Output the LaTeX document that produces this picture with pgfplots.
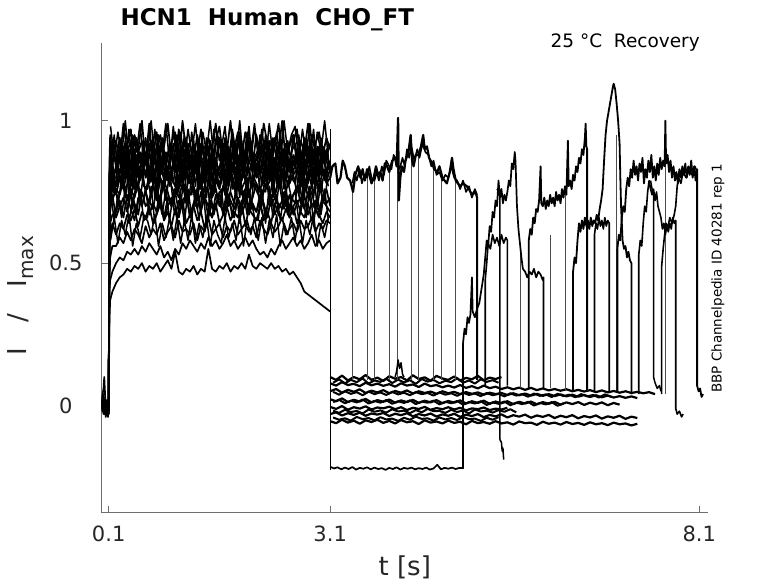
\documentclass[border=0pt]{standalone}
\usepackage{fontspec}
\setmainfont{DejaVu Sans}
\usepackage{pgfplots}
\usepackage{pgfplotstable}
\pgfplotsset{compat=1.18}
\definecolor{axgray}{RGB}{110,110,110}
\definecolor{txtgray}{RGB}{38,38,38}

\pgfplotstableread{
t a1 a2 a3 a4 a5 a6 a7 a8 a9 a10 a11 a12 a13 a14 a15
0.00 0.01 0.00 -0.01 0.02 0.00 0.01 -0.02 0.00 0.01 -0.01 0.00 0.02 0.00 0.01 -0.01
0.03 0.06 -0.02 0.01 0.00 0.03 -0.03 0.02 0.01 -0.01 0.04 0.00 -0.02 0.01 -0.01 0.02
0.04 0.10 0.01 -0.03 0.02 -0.01 0.02 0.00 -0.03 0.02 0.00 -0.02 0.01 -0.01 0.00 0.00
0.06 -0.01 -0.03 0.00 -0.02 0.01 -0.04 0.01 0.00 -0.03 0.01 0.02 -0.03 0.02 -0.02 0.01
0.09 -0.02 0.01 -0.04 0.00 -0.03 0.00 -0.02 0.02 -0.01 -0.03 -0.01 0.00 -0.02 0.01 -0.02
0.10 0.00 -0.02 0.00 -0.03 0.00 -0.02 0.01 -0.02 0.00 -0.01 -0.03 -0.01 0.00 -0.01 0.00
0.11 0.85 0.80 0.78 0.82 0.72 0.75 0.70 0.62 0.55 0.45 0.40 0.30 0.80 0.76 0.58
0.12 0.95 0.86 0.88 0.76 0.84 0.70 0.78 0.68 0.60 0.52 0.44 0.37 0.90 0.85 0.64
0.15 0.88 0.93 0.80 0.86 0.78 0.82 0.72 0.74 0.64 0.56 0.47 0.40 0.86 0.82 0.67
0.20 0.93 0.84 0.80 0.86 0.77 0.74 0.76 0.66 0.60 0.56 0.50 0.43 0.87 0.82 0.68
0.25 0.86 0.91 0.87 0.79 0.83 0.80 0.74 0.70 0.64 0.59 0.52 0.45 0.94 0.88 0.72
0.30 0.99 0.83 0.91 0.84 0.79 0.76 0.79 0.73 0.62 0.57 0.51 0.46 0.85 0.79 0.66
0.35 0.89 0.89 0.82 0.88 0.85 0.82 0.72 0.68 0.67 0.61 0.54 0.48 0.91 0.86 0.74
0.40 0.84 0.93 0.86 0.77 0.80 0.73 0.76 0.74 0.65 0.58 0.53 0.47 0.97 0.83 0.69
0.45 0.95 0.82 0.79 0.85 0.76 0.79 0.73 0.71 0.69 0.62 0.55 0.49 0.83 0.90 0.65
0.50 0.90 0.88 0.90 0.81 0.84 0.77 0.78 0.67 0.63 0.60 0.53 0.48 0.89 0.80 0.73
0.55 1.00 0.85 0.84 0.87 0.81 0.83 0.70 0.75 0.68 0.57 0.56 0.50 0.93 0.85 0.70
0.60 0.85 0.94 0.81 0.80 0.86 0.75 0.75 0.70 0.66 0.63 0.54 0.47 0.86 0.89 0.76
0.65 0.92 0.80 0.89 0.84 0.78 0.81 0.71 0.72 0.70 0.59 0.57 0.49 0.99 0.78 0.67
0.70 0.88 0.87 0.93 0.78 0.82 0.78 0.77 0.69 0.64 0.62 0.55 0.48 0.84 0.84 0.71
0.75 0.96 0.83 0.83 0.86 0.75 0.72 0.74 0.76 0.67 0.60 0.53 0.50 0.90 0.91 0.68
0.80 0.84 0.92 0.86 0.82 0.85 0.80 0.72 0.71 0.71 0.64 0.56 0.47 0.95 0.81 0.74
0.85 0.91 0.86 0.80 0.89 0.79 0.76 0.79 0.66 0.65 0.58 0.52 0.49 0.87 0.87 0.65
0.90 0.99 0.81 0.88 0.79 0.83 0.84 0.75 0.73 0.68 0.61 0.54 0.51 0.82 0.83 0.70
0.95 0.87 0.90 0.92 0.83 0.80 0.77 0.70 0.70 0.63 0.63 0.51 0.48 0.92 0.79 0.73
1.00 0.93 0.84 0.82 0.87 0.77 0.74 0.76 0.75 0.69 0.59 0.55 0.54 0.96 0.88 0.67
1.05 0.85 0.97 0.85 0.76 0.86 0.81 0.73 0.68 0.66 0.65 0.53 0.47 0.85 0.84 0.72
1.10 1.00 0.82 0.79 0.85 0.81 0.79 0.78 0.72 0.72 0.61 0.57 0.46 0.89 0.92 0.69
1.15 0.89 0.88 0.90 0.81 0.84 0.75 0.71 0.74 0.64 0.62 0.55 0.48 0.94 0.80 0.75
1.20 0.92 0.85 0.84 0.88 0.78 0.82 0.74 0.67 0.67 0.60 0.58 0.47 0.83 0.86 0.66
1.25 0.86 0.93 0.87 0.80 0.82 0.77 0.77 0.71 0.70 0.64 0.56 0.49 0.91 0.82 0.70
1.30 0.95 0.80 0.81 0.84 0.87 0.73 0.69 0.76 0.65 0.58 0.54 0.46 0.88 0.89 0.73
1.35 0.88 0.89 0.92 0.78 0.76 0.80 0.75 0.69 0.68 0.63 0.57 0.48 0.97 0.78 0.68
1.40 0.83 0.91 0.86 0.86 0.81 0.78 0.72 0.73 0.62 0.61 0.55 0.47 0.86 0.85 0.74
1.45 0.94 0.83 0.89 0.82 0.84 0.84 0.79 0.70 0.69 0.66 0.59 0.55 0.90 0.91 0.66
1.50 0.90 0.87 0.80 0.90 0.79 0.75 0.73 0.66 0.66 0.60 0.56 0.48 0.84 0.83 0.71
1.55 0.99 0.84 0.85 0.79 0.83 0.79 0.76 0.74 0.71 0.62 0.58 0.47 0.93 0.87 0.69
1.60 0.86 0.94 0.83 0.83 0.77 0.76 0.70 0.71 0.64 0.64 0.55 0.49 0.98 0.80 0.75
1.65 0.92 0.81 0.91 0.85 0.85 0.81 0.77 0.68 0.67 0.59 0.57 0.48 0.87 0.86 0.67
1.70 0.89 0.88 0.86 0.77 0.80 0.74 0.72 0.75 0.70 0.63 0.60 0.50 0.92 0.90 0.72
1.75 1.00 0.85 0.79 0.87 0.84 0.80 0.75 0.72 0.65 0.61 0.56 0.47 0.85 0.81 0.70
1.80 0.85 0.92 0.88 0.81 0.76 0.77 0.71 0.69 0.68 0.65 0.58 0.49 0.90 0.84 0.66
1.85 0.93 0.82 0.84 0.84 0.82 0.83 0.80 0.73 0.66 0.60 0.55 0.48 0.96 0.88 0.73
1.90 0.87 0.90 0.93 0.79 0.86 0.76 0.74 0.67 0.72 0.62 0.57 0.50 0.84 0.79 0.69
1.95 0.96 0.86 0.82 0.88 0.79 0.79 0.76 0.71 0.63 0.64 0.59 0.48 0.89 0.85 0.74
2.00 0.90 0.98 0.85 0.82 0.83 0.73 0.69 0.76 0.69 0.61 0.56 0.53 0.93 0.92 0.67
2.05 0.84 0.83 0.89 0.86 0.77 0.81 0.73 0.70 0.67 0.63 0.58 0.49 0.87 0.82 0.71
2.10 0.95 0.87 0.81 0.80 0.85 0.78 0.78 0.68 0.65 0.59 0.55 0.48 0.82 0.87 0.68
2.15 0.88 0.91 0.87 0.83 0.81 0.75 0.71 0.74 0.70 0.65 0.53 0.50 0.95 0.84 0.72
2.20 0.99 0.84 0.90 0.85 0.78 0.82 0.75 0.71 0.66 0.62 0.54 0.49 0.88 0.80 0.65
2.25 0.92 0.89 0.83 0.78 0.84 0.77 0.77 0.66 0.68 0.60 0.52 0.48 0.94 0.89 0.70
2.30 0.86 0.93 0.86 0.89 0.80 0.80 0.70 0.73 0.64 0.64 0.55 0.50 0.85 0.83 0.74
2.35 0.94 0.81 0.80 0.81 0.87 0.74 0.73 0.75 0.71 0.61 0.53 0.48 0.91 0.86 0.67
2.40 0.89 0.86 0.91 0.84 0.76 0.79 0.80 0.69 0.67 0.63 0.56 0.49 0.99 0.81 0.71
2.45 1.00 0.88 0.84 0.87 0.82 0.83 0.72 0.72 0.65 0.66 0.58 0.47 0.86 0.90 0.69
2.50 0.85 0.92 0.88 0.79 0.79 0.76 0.76 0.70 0.69 0.60 0.55 0.48 0.90 0.84 0.73
2.55 0.91 0.83 0.82 0.86 0.85 0.78 0.68 0.74 0.66 0.62 0.57 0.46 0.84 0.78 0.66
2.60 0.95 0.85 0.95 0.82 0.81 0.81 0.74 0.67 0.70 0.64 0.59 0.47 0.93 0.88 0.70
2.65 0.87 0.90 0.85 0.88 0.83 0.75 0.77 0.71 0.64 0.61 0.56 0.45 0.97 0.85 0.72
2.70 0.93 0.82 0.87 0.80 0.77 0.79 0.71 0.73 0.68 0.65 0.58 0.43 0.87 0.82 0.68
2.75 0.89 0.94 0.81 0.84 0.86 0.74 0.79 0.69 0.66 0.62 0.55 0.40 0.92 0.87 0.74
2.80 0.99 0.86 0.89 0.78 0.80 0.82 0.73 0.75 0.71 0.63 0.57 0.39 0.85 0.91 0.67
2.85 0.84 0.89 0.84 0.87 0.82 0.77 0.75 0.70 0.65 0.66 0.60 0.38 0.95 0.80 0.71
2.90 0.92 0.83 0.92 0.83 0.78 0.80 0.69 0.72 0.69 0.61 0.56 0.37 0.89 0.86 0.69
2.95 0.96 0.91 0.80 0.81 0.84 0.76 0.78 0.68 0.67 0.64 0.58 0.36 0.83 0.83 0.66
3.00 0.88 0.85 0.86 0.89 0.81 0.83 0.72 0.74 0.64 0.62 0.55 0.35 0.91 0.89 0.72
3.05 0.94 0.88 0.90 0.82 0.79 0.78 0.76 0.71 0.68 0.65 0.57 0.34 0.87 0.81 0.70
3.10 0.90 0.84 0.83 0.85 0.83 0.80 0.70 0.73 0.66 0.64 0.58 0.33 0.92 0.86 0.68
}\acttab

\pgfplotstableread{
t b1 b2 b3 b4 b5 b6 b7 b8
0.125 0.98 0.84 0.92 0.78 0.86 0.71 0.75 0.58
0.175 0.87 0.95 0.80 0.89 0.74 0.81 0.65 0.66
0.225 0.96 0.83 0.90 0.77 0.84 0.70 0.74 0.57
0.275 0.88 0.93 0.82 0.87 0.76 0.80 0.66 0.65
0.325 1.00 0.86 0.93 0.80 0.87 0.73 0.77 0.60
0.375 0.86 0.97 0.79 0.90 0.73 0.83 0.64 0.67
0.425 0.95 0.82 0.91 0.76 0.85 0.69 0.73 0.56
0.475 0.89 0.94 0.81 0.88 0.75 0.79 0.67 0.64
0.525 0.99 0.85 0.89 0.79 0.83 0.72 0.76 0.59
0.575 0.85 0.92 0.83 0.86 0.77 0.82 0.65 0.66
0.625 0.88 0.93 0.82 0.87 0.76 0.80 0.66 0.65
0.675 1.00 0.86 0.93 0.80 0.87 0.73 0.77 0.60
0.725 0.86 0.97 0.79 0.90 0.73 0.83 0.64 0.67
0.775 0.95 0.82 0.91 0.76 0.85 0.69 0.73 0.56
0.825 0.89 0.94 0.81 0.88 0.75 0.79 0.67 0.64
0.875 0.99 0.85 0.89 0.79 0.83 0.72 0.76 0.59
0.925 0.85 0.92 0.83 0.86 0.77 0.82 0.65 0.66
0.975 0.98 0.84 0.92 0.78 0.86 0.71 0.75 0.58
1.025 0.87 0.95 0.80 0.89 0.74 0.81 0.65 0.66
1.075 0.96 0.83 0.90 0.77 0.84 0.70 0.74 0.57
1.125 0.86 0.95 0.80 0.90 0.75 0.82 0.64 0.65
1.175 0.97 0.83 0.92 0.78 0.86 0.71 0.76 0.58
1.225 0.88 0.96 0.81 0.88 0.74 0.80 0.66 0.67
1.275 0.99 0.84 0.90 0.77 0.85 0.70 0.74 0.57
1.325 0.85 0.93 0.83 0.89 0.76 0.83 0.65 0.64
1.375 0.96 0.82 0.91 0.79 0.84 0.72 0.77 0.59
1.425 0.89 0.94 0.79 0.87 0.73 0.81 0.63 0.66
1.475 1.00 0.85 0.93 0.76 0.87 0.69 0.75 0.56
1.525 0.87 0.97 0.82 0.90 0.75 0.80 0.67 0.65
1.575 0.95 0.83 0.89 0.78 0.83 0.73 0.73 0.60
1.625 0.90 0.84 0.93 0.79 0.85 0.72 0.76 0.57
1.675 0.98 0.94 0.80 0.88 0.74 0.82 0.65 0.66
1.725 0.86 0.83 0.91 0.77 0.87 0.70 0.74 0.59
1.775 0.97 0.95 0.82 0.90 0.76 0.81 0.66 0.64
1.825 0.88 0.85 0.92 0.78 0.84 0.73 0.77 0.58
1.875 1.00 0.96 0.79 0.86 0.73 0.83 0.64 0.67
1.925 0.85 0.82 0.90 0.80 0.86 0.71 0.75 0.56
1.975 0.96 0.93 0.81 0.89 0.75 0.80 0.67 0.65
2.025 0.89 0.86 0.93 0.76 0.85 0.69 0.73 0.60
2.075 0.99 0.97 0.83 0.87 0.77 0.82 0.66 0.66
2.125 0.87 0.92 0.80 0.90 0.74 0.81 0.65 0.58
2.175 0.97 0.84 0.92 0.77 0.86 0.70 0.76 0.66
2.225 0.86 0.95 0.81 0.88 0.75 0.83 0.64 0.57
2.275 0.99 0.83 0.93 0.79 0.87 0.72 0.77 0.65
2.325 0.88 0.94 0.79 0.86 0.73 0.80 0.66 0.59
2.375 0.96 0.86 0.91 0.78 0.85 0.71 0.74 0.67
2.425 0.85 0.96 0.82 0.89 0.76 0.82 0.65 0.56
2.475 1.00 0.82 0.90 0.76 0.84 0.69 0.75 0.64
2.525 0.89 0.93 0.83 0.87 0.77 0.79 0.67 0.60
2.575 0.95 0.85 0.89 0.80 0.83 0.73 0.73 0.66
2.625 0.98 0.84 0.92 0.78 0.86 0.71 0.75 0.58
2.675 0.86 0.95 0.80 0.89 0.74 0.81 0.65 0.66
2.725 0.97 0.83 0.90 0.77 0.84 0.70 0.74 0.57
2.775 0.88 0.93 0.82 0.87 0.76 0.80 0.66 0.65
2.825 0.99 0.86 0.93 0.80 0.87 0.73 0.77 0.60
2.875 0.85 0.97 0.79 0.90 0.73 0.83 0.64 0.67
2.925 0.96 0.82 0.91 0.76 0.85 0.69 0.73 0.56
2.975 0.89 0.94 0.81 0.88 0.75 0.79 0.67 0.64
3.025 1.00 0.85 0.89 0.79 0.83 0.72 0.76 0.59
3.075 0.87 0.92 0.83 0.86 0.77 0.82 0.65 0.66
}\acttabb

\pgfplotstableread{
t c1 c2 c3 c4 c5 c6 c7
3.10 0.10 0.078 0.05 0.022 -0.005 -0.03 -0.055
3.18 0.09 0.07 0.058 0.015 -0.012 -0.024 -0.062
3.26 0.105 0.082 0.045 0.025 -0.002 -0.035 -0.05
3.34 0.088 0.072 0.055 0.012 -0.015 -0.027 -0.06
3.42 0.10 0.076 0.048 0.02 -0.006 -0.033 -0.053
3.50 0.092 0.068 0.057 0.014 -0.011 -0.025 -0.064
3.58 0.107 0.08 0.044 0.023 -0.003 -0.036 -0.052
3.66 0.09 0.071 0.052 0.011 -0.014 -0.028 -0.058
3.74 0.098 0.077 0.046 0.019 -0.007 -0.032 -0.05
3.82 0.086 0.069 0.054 0.013 -0.01 -0.026 -0.061
3.90 0.103 0.075 0.043 0.021 -0.004 -0.037 -0.054
3.98 0.094 0.066 0.051 0.01 -0.013 -0.029 -0.063
4.06 0.10 0.078 0.045 0.018 -0.006 -0.034 -0.051
4.14 0.088 0.07 0.053 0.012 -0.016 -0.027 -0.059
4.22 0.106 0.074 0.042 0.02 -0.008 -0.038 -0.055
4.30 0.093 0.065 0.05 0.009 -0.012 -0.03 -0.065
4.38 0.099 0.077 0.044 0.017 -0.005 -0.035 -0.052
4.46 0.087 0.068 0.049 0.011 -0.015 -0.028 -0.06
4.54 0.104 0.072 0.041 0.019 -0.009 -0.039 -0.056
4.62 0.095 0.064 0.05 0.008 -0.013 -0.031 -0.063
4.70 0.09 0.07 0.043 0.016 -0.006 -0.036 -0.053
4.78 0.102 0.063 0.048 0.01 -0.014 -0.029 -0.061
4.86 0.088 0.072 0.04 0.018 -0.008 -0.04 -0.057
4.94 0.097 0.062 0.047 0.007 -0.017 -0.032 -0.066
5.02 0.092 0.068 0.041 0.015 -0.01 -0.037 -0.054
5.10 0.104 0.06 0.046 0.009 -0.013 -0.03 -0.062
5.18 0.089 0.07 0.038 0.017 -0.007 -0.041 -0.058
5.26 0.098 0.061 0.045 0.006 -0.016 -0.033 -0.064
5.34 0.093 0.066 0.04 0.014 -0.011 -0.038 -0.055
5.42 0.10 0.058 0.044 0.008 -0.014 -0.031 -0.063
5.50 nan 0.064 0.037 0.015 -0.008 -0.042 -0.059
5.58 nan 0.057 0.043 0.005 nan -0.034 -0.067
5.66 nan 0.063 0.036 0.013 nan -0.039 -0.056
5.74 nan 0.055 0.042 0.007 nan -0.032 -0.062
5.82 nan 0.062 0.035 0.014 nan -0.043 -0.06
5.90 nan 0.054 0.041 0.004 nan -0.035 -0.068
5.98 nan 0.06 0.034 0.012 nan -0.04 -0.057
6.06 nan 0.053 0.04 0.006 nan -0.033 -0.064
6.14 nan 0.058 0.033 0.013 nan -0.044 -0.06
6.22 nan 0.052 0.039 0.003 nan -0.036 -0.067
6.30 nan 0.057 0.032 0.011 nan -0.041 -0.058
6.38 nan 0.05 0.038 0.005 nan -0.034 -0.065
6.46 nan 0.055 0.031 0.012 nan -0.045 -0.061
6.54 nan 0.049 0.037 0.002 nan -0.037 -0.068
6.62 nan 0.054 0.03 0.01 nan -0.042 -0.059
6.70 nan 0.047 0.036 0.004 nan -0.035 -0.066
6.78 nan 0.053 0.029 0.011 nan -0.046 -0.062
6.86 nan 0.046 0.035 0.001 nan -0.038 -0.069
6.94 nan 0.051 0.028 0.009 nan -0.043 -0.06
7.02 nan 0.045 0.033 0.003 nan -0.036 -0.066
7.10 nan 0.05 0.027 nan nan -0.047 -0.063
7.18 nan 0.044 0.032 nan nan -0.039 -0.07
7.26 nan 0.048 0.026 nan nan -0.044 -0.064
7.34 nan 0.043 nan nan nan nan nan
7.42 nan 0.047 nan nan nan nan nan
7.50 nan 0.04 nan nan nan nan nan
}\basetab

\pgfplotstableread{
t d1 d2 d3 d4 d5
3.14 0.08 0.048 0.012 -0.018 -0.042
3.22 0.092 0.038 0.02 -0.026 -0.05
3.30 0.078 0.05 0.008 -0.015 -0.045
3.38 0.09 0.041 0.017 -0.023 -0.053
3.46 0.082 0.047 0.011 -0.019 -0.04
3.54 0.095 0.036 0.021 -0.028 -0.048
3.62 0.077 0.049 0.007 -0.014 -0.044
3.70 0.088 0.04 0.016 -0.022 -0.052
3.78 0.083 0.046 0.01 -0.017 -0.041
3.86 0.094 0.037 0.019 -0.025 -0.049
3.94 0.079 0.048 0.006 -0.013 -0.046
4.02 0.091 0.039 0.015 -0.021 -0.054
4.10 0.081 0.045 0.009 -0.018 -0.043
4.18 0.089 0.036 0.018 -0.027 -0.05
4.26 0.076 0.047 0.005 -0.016 -0.039
4.34 0.093 0.04 0.014 -0.024 -0.047
4.42 0.084 0.044 0.01 -0.012 -0.045
4.50 0.09 0.035 0.017 -0.02 -0.053
4.58 0.078 0.046 0.004 -0.019 -0.042
4.66 0.087 0.038 0.013 -0.026 -0.049
4.74 0.082 0.043 0.008 -0.015 -0.044
4.82 0.096 0.034 0.016 -0.023 -0.051
4.90 0.08 0.045 0.003 -0.017 -0.04
4.98 0.088 0.037 0.012 -0.028 -0.048
5.06 0.077 0.042 0.007 -0.014 -0.046
5.14 0.092 0.033 0.015 -0.021 -0.054
5.22 0.083 0.044 0.002 -0.018 -0.043
5.30 0.089 0.036 0.011 -0.025 -0.05
5.38 0.08 0.041 0.006 -0.016 -0.041
5.46 nan 0.032 0.014 -0.022 nan
5.54 nan 0.043 0.001 -0.013 nan
5.62 nan 0.035 0.01 -0.024 nan
5.70 nan 0.04 0.005 nan nan
5.78 nan 0.031 0.013 nan nan
5.86 nan 0.042 0.0 nan nan
5.94 nan 0.034 0.009 nan nan
6.02 nan 0.039 0.004 nan nan
6.10 nan 0.03 0.012 nan nan
6.18 nan 0.041 -0.001 nan nan
6.26 nan 0.033 0.008 nan nan
6.34 nan 0.038 nan nan nan
6.42 nan 0.029 nan nan nan
6.50 nan 0.04 nan nan nan
6.58 nan 0.032 nan nan nan
6.66 nan 0.037 nan nan nan
6.74 nan 0.028 nan nan nan
6.82 nan 0.039 nan nan nan
6.90 nan 0.031 nan nan nan
}\basetabb

\begin{document}
\begin{tikzpicture}
\useasboundingbox (0,0) rectangle (778pt,583pt);
\begin{axis}[
  at={(101.3pt,70.7pt)}, anchor=south west,
  width=607.1pt, height=469pt, scale only axis,
  xmin=0, xmax=8.223, ymin=-0.375, ymax=1.272,
  axis lines*=left,
  axis line style={axgray, line width=0.6pt},
  xtick={0.1,3.1,8.1}, ytick={0,0.5,1},
  xticklabels={0.1,3.1,8.1}, yticklabels={0,0.5,1},
  tick align=inside, major tick length=6.5pt,
  tick style={axgray, line width=0.6pt},
  ticklabel style={font=\fontsize{21}{25}\selectfont, text=txtgray},
  /pgf/number format/assume math mode=true,
  xticklabel style={anchor=center, yshift=-21.2pt},
  yticklabel style={anchor=center, xshift=-35.5pt},
]
% activation phase
\pgfplotsinvokeforeach{a1,a2,a3,a4,a5,a6,a7,a8,a9,a10,a11,a12,a13,a14,a15}{
  \addplot[black, line width=1.7pt, line join=round] table[x=t,y=#1]{\acttab};
}
\pgfplotsinvokeforeach{b1,b2,b3,b4,b5,b6,b7,b8}{
  \addplot[black, line width=1.5pt, line join=round] table[x=t,y=#1]{\acttabb};
}
% baselines after 3.1 s
\pgfplotsinvokeforeach{c1,c2,c3,c4,c5,c6,c7}{
  \addplot[black, line width=2.2pt, line join=round] table[x=t,y=#1]{\basetab};
}
\pgfplotsinvokeforeach{d1,d2,d3,d4,d5}{
  \addplot[black, line width=2.0pt, line join=round] table[x=t,y=#1]{\basetabb};
}
% vertical steps
\addplot[black!70, line width=0.55pt, unbounded coords=jump] coordinates {
(3.40,0.09)(3.40,0.77)(3.40,nan)
(3.60,0.09)(3.60,0.83)(3.60,nan)
(3.70,0.09)(3.70,0.80)(3.70,nan)
(3.90,0.09)(3.90,0.84)(3.90,nan)
(4.01,0.09)(4.01,0.86)(4.01,nan)
(4.20,0.09)(4.20,0.90)(4.20,nan)
(4.29,0.09)(4.29,0.88)(4.29,nan)
(4.50,0.09)(4.50,0.85)(4.50,nan)
(4.61,0.09)(4.61,0.80)(4.61,nan)
(4.79,0.09)(4.79,0.79)(4.79,nan)
(5.68,0.06)(5.68,0.57)(5.68,nan)
(6.08,0.06)(6.08,0.60)(6.08,nan)
(6.29,0.05)(6.29,0.77)(6.29,nan)
(6.98,0.05)(6.98,0.95)(6.98,nan)
(7.64,0.04)(7.64,0.99)
};
\addplot[black, line width=0.6pt] coordinates {(3.1,-0.225)(3.1,0.97)};
% upper trace U
\addplot[black, line width=2.2pt, line join=round] coordinates {
(3.1,0.80)(3.13,0.84)(3.17,0.85)(3.2,0.78)(3.24,0.80)(3.27,0.86)(3.3,0.84)(3.33,0.8)(3.37,0.79)(3.41,0.75)(3.44,0.81)(3.48,0.84)(3.51,0.8)(3.54,0.83)(3.57,0.79)(3.6,0.83)(3.63,0.81)(3.66,0.78)(3.69,0.80)(3.72,0.84)(3.75,0.81)(3.78,0.82)(3.81,0.79)(3.84,0.85)(3.87,0.84)(3.9,0.82)(3.94,0.86)(3.98,0.87)(4.0,0.84)(4.02,1.01)(4.03,0.72)(4.05,0.8)(4.07,0.84)(4.1,0.82)(4.12,0.86)(4.16,0.89)(4.19,0.95)(4.21,0.86)(4.23,0.84)(4.26,0.88)(4.3,0.88)(4.33,0.91)(4.36,0.95)(4.38,0.9)(4.41,0.91)(4.44,0.87)(4.48,0.85)(4.51,0.83)(4.55,0.82)(4.58,0.84)(4.62,0.80)(4.65,0.79)(4.68,0.78)(4.72,0.82)(4.75,0.87)(4.77,0.83)(4.8,0.79)(4.83,0.78)(4.86,0.77)(4.9,0.78)(4.95,0.77)(4.98,0.76)(5.02,0.74)(5.05,0.75)(5.08,0.74)(5.09,0.73)(5.09,0.09)
};
\addplot[black, line width=1.6pt, line join=round] coordinates {
(3.4,0.78)(3.43,0.82)(3.46,0.79)(3.5,0.83)(3.53,0.78)(3.56,0.81)(3.6,0.8)(3.63,0.84)(3.66,0.8)(3.7,0.79)(3.73,0.82)(3.76,0.79)(3.8,0.84)(3.83,0.81)(3.86,0.86)(3.9,0.84)(3.93,0.83)(3.96,0.88)(4.0,0.86)(4.04,0.83)(4.08,0.87)(4.11,0.84)(4.14,0.9)(4.17,0.87)(4.2,0.91)(4.24,0.86)(4.28,0.9)(4.31,0.87)(4.35,0.92)(4.39,0.89)(4.43,0.88)(4.47,0.84)(4.5,0.86)(4.54,0.81)(4.58,0.82)(4.62,0.79)(4.66,0.81)(4.7,0.8)(4.74,0.84)(4.78,0.8)(4.82,0.79)(4.86,0.76)(4.9,0.79)(4.94,0.75)(4.98,0.77)(5.02,0.73)(5.06,0.76)(5.09,0.74)
};
% -0.22 sweep and its rising trace B
\addplot[black, line width=1.7pt, line join=round] coordinates {
(3.1,-0.215)(3.15,-0.221)(3.2,-0.217)(3.25,-0.224)(3.3,-0.218)(3.35,-0.223)(3.4,-0.216)(3.45,-0.225)(3.5,-0.219)(3.55,-0.222)(3.6,-0.217)(3.65,-0.224)(3.7,-0.218)(3.75,-0.223)(3.8,-0.22)(3.85,-0.226)(3.9,-0.219)(3.95,-0.223)(4.0,-0.217)(4.05,-0.225)(4.1,-0.219)(4.15,-0.222)(4.2,-0.218)(4.25,-0.224)(4.3,-0.22)(4.35,-0.223)(4.4,-0.218)(4.45,-0.225)(4.5,-0.221)(4.55,-0.208)(4.6,-0.224)(4.65,-0.219)(4.7,-0.222)(4.75,-0.218)(4.8,-0.223)(4.85,-0.219)(4.9,-0.22)
(4.90,0.22)(4.92,0.27)(4.94,0.25)(4.96,0.31)(4.98,0.29)(5.0,0.32)(5.02,0.45)(5.03,0.33)(5.06,0.31)(5.09,0.34)(5.12,0.36)(5.15,0.41)(5.18,0.46)(5.2,0.52)(5.22,0.58)(5.24,0.56)(5.26,0.63)(5.28,0.61)(5.3,0.68)(5.32,0.66)(5.34,0.72)(5.36,0.7)(5.38,0.79)(5.4,0.73)(5.42,0.76)(5.44,0.71)(5.46,0.74)(5.48,0.72)(5.5,0.75)(5.52,0.79)(5.54,0.77)(5.56,0.85)(5.58,0.83)(5.6,0.89)(5.61,0.86)(5.63,0.7)(5.65,0.62)(5.67,0.57)(5.69,0.52)(5.71,0.48)(5.74,0.47)(5.77,0.45)(5.8,0.47)(5.83,0.46)(5.86,0.48)(5.89,0.45)(5.92,0.47)(5.95,0.46)(5.98,0.44)(5.99,0.45)(5.99,0.06)
};
% B2
\addplot[black, line width=1.6pt, line join=round] coordinates {
(5.20,0.07)(5.20,0.44)(5.22,0.5)(5.24,0.57)(5.27,0.55)(5.3,0.6)(5.33,0.57)(5.36,0.59)(5.39,0.56)(5.42,0.6)(5.45,0.57)(5.48,0.59)(5.5,0.58)(5.5,0.07)
};
% drop at 5.40
\addplot[black, line width=1.5pt, line join=round] coordinates {
(5.36,0.76)(5.38,0.75)(5.40,0.74)(5.40,-0.12)(5.42,-0.13)(5.43,-0.16)(5.44,-0.15)(5.45,-0.19)
};
% C
\addplot[black, line width=1.8pt, line join=round] coordinates {
(5.79,0.06)(5.79,0.58)(5.81,0.62)(5.83,0.6)(5.85,0.66)(5.87,0.64)(5.89,0.69)(5.91,0.68)(5.93,0.72)(5.95,0.84)(5.96,0.71)(5.98,0.7)(6.0,0.73)(6.02,0.69)(6.04,0.72)(6.06,0.7)(6.08,0.74)(6.1,0.71)(6.12,0.73)(6.14,0.7)(6.16,0.75)(6.18,0.72)(6.2,0.74)(6.22,0.71)(6.24,0.76)(6.26,0.73)(6.28,0.77)(6.3,0.74)(6.32,0.93)(6.33,0.77)(6.35,0.79)(6.37,0.76)(6.39,0.81)(6.41,0.79)(6.43,0.84)(6.45,0.82)(6.47,0.87)(6.49,0.85)(6.51,0.9)(6.53,0.88)(6.55,0.94)(6.56,0.99)(6.57,0.91)(6.58,0.9)(6.58,0.05)
};
% D
\addplot[black, line width=1.8pt, line join=round] coordinates {
(6.39,0.05)(6.39,0.47)(6.41,0.52)(6.43,0.5)(6.45,0.58)(6.47,0.64)(6.49,0.61)(6.51,0.65)(6.53,0.62)(6.55,0.66)(6.57,0.63)(6.59,0.65)(6.61,0.62)(6.63,0.66)(6.65,0.63)(6.67,0.65)(6.69,0.64)(6.71,0.67)(6.73,0.65)(6.75,0.69)(6.77,0.72)(6.79,0.76)(6.81,0.86)(6.83,0.95)(6.85,1.0)(6.87,1.03)(6.89,1.06)(6.91,1.09)(6.93,1.12)(6.94,1.13)(6.96,1.11)(6.98,1.06)(7.0,1.0)(7.02,0.92)(7.03,0.8)(7.04,0.7)(7.06,0.58)(7.08,0.55)(7.1,0.56)(7.12,0.52)(7.14,0.54)(7.16,0.51)(7.18,0.5)(7.18,0.04)
};
% D2
\addplot[black, line width=1.6pt, line join=round] coordinates {
(6.68,0.05)(6.68,0.6)(6.7,0.64)(6.72,0.62)(6.74,0.66)(6.76,0.63)(6.78,0.65)(6.8,0.62)(6.82,0.66)(6.84,0.63)(6.86,0.65)(6.88,0.64)(6.88,0.05)
};
% E
\addplot[black, line width=1.8pt, line join=round] coordinates {
(6.99,0.05)(6.99,0.55)(7.01,0.6)(7.03,0.58)(7.05,0.66)(7.07,0.7)(7.09,0.68)(7.11,0.76)(7.13,0.8)(7.15,0.77)(7.17,0.83)(7.19,0.8)(7.21,0.86)(7.23,0.81)(7.25,0.84)(7.27,0.79)(7.29,0.85)(7.31,0.82)(7.33,0.87)(7.35,0.78)(7.37,0.83)(7.39,0.8)(7.41,0.86)(7.43,0.82)(7.45,0.88)(7.47,0.8)(7.49,0.84)(7.51,0.79)(7.53,0.85)(7.55,0.81)(7.57,0.87)(7.59,0.83)(7.61,0.86)(7.63,0.84)(7.64,1.0)(7.65,0.85)(7.67,0.88)(7.69,0.82)(7.71,0.86)(7.73,0.8)(7.75,0.84)(7.77,0.79)(7.79,0.82)(7.81,0.78)(7.83,0.83)(7.85,0.8)(7.87,0.84)(7.89,0.81)(7.91,0.85)(7.93,0.8)(7.95,0.84)(7.97,0.81)(7.99,0.86)(8.01,0.8)(8.03,0.84)(8.05,0.79)(8.07,0.83)(8.07,0.07)(8.09,0.05)(8.11,0.06)(8.13,0.03)(8.15,0.04)
};
% F
\addplot[black, line width=1.6pt, line join=round] coordinates {
(7.28,0.04)(7.28,0.53)(7.3,0.58)(7.32,0.56)(7.34,0.64)(7.36,0.7)(7.38,0.68)(7.4,0.75)(7.42,0.79)(7.44,0.76)(7.46,0.74)(7.48,0.76)(7.5,0.72)(7.52,0.75)(7.54,0.7)(7.56,0.68)(7.58,0.66)(7.6,0.62)(7.62,0.64)(7.64,0.6)(7.66,0.63)(7.68,0.61)(7.7,0.64)(7.72,0.62)(7.74,0.66)(7.76,0.64)(7.78,0.65)(7.78,-0.01)(7.8,-0.03)(7.83,-0.02)(7.86,-0.04)(7.88,-0.03)
};
% G
\addplot[black, line width=1.6pt, line join=round] coordinates {
(7.59,0.04)(7.59,0.49)(7.61,0.55)(7.63,0.6)(7.65,0.64)(7.67,0.62)(7.7,0.66)(7.73,0.64)(7.76,0.67)(7.78,0.7)(7.8,0.77)(7.82,0.8)(7.85,0.78)(7.88,0.82)(7.92,0.8)(7.96,0.83)(8.0,0.81)(8.04,0.84)(8.07,0.82)
};
% drop at 7.48
\addplot[black, line width=1.5pt, line join=round] coordinates {
(7.44,0.79)(7.46,0.76)(7.48,0.74)(7.48,0.1)(7.5,0.08)(7.53,0.06)(7.56,0.07)(7.58,0.05)
};
% small bump on baseline
\addplot[black, line width=1.5pt, line join=round] coordinates {
(3.98,0.1)(4.0,0.12)(4.02,0.16)(4.04,0.13)(4.06,0.15)(4.08,0.11)(4.1,0.1)
};
\end{axis}
\node[anchor=base west, font=\fontsize{23}{27}\selectfont\bfseries] at (117pt,557pt) {HCN1\ \ Human\ \ CHO\_FT};
\node[anchor=base east, font=\fontsize{18.5}{22}\selectfont] at (703.3pt,535.7pt) {25 °C\ \ Recovery};
\node[rotate=90, anchor=base, font=\fontsize{13.5}{16}\selectfont] at (721.7pt,304.7pt) {BBP Channelpedia ID 40281 rep 1};
\node[rotate=90, anchor=base, font=\fontsize{26}{30}\selectfont, text=txtgray] at (26.7pt,287pt) {I\hspace{1.0em}/\hspace{1.0em}I\raisebox{-0.25em}{\fontsize{20}{22}\selectfont max}};
\node[anchor=base, font=\fontsize{26}{30}\selectfont, text=txtgray] at (404.8pt,8pt) {t [s]};
\end{tikzpicture}
\end{document}
